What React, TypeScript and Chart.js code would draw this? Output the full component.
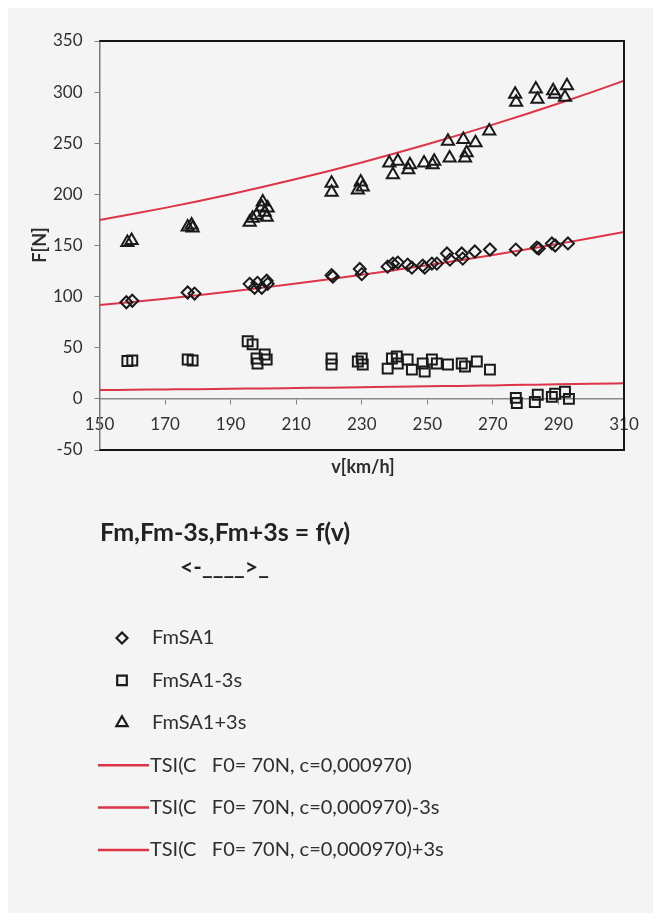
import React, { useEffect, useRef } from 'react';
import { Chart, registerables } from 'chart.js';

Chart.register(...registerables);

// ---- data ----
const fmSA1V = [158.2, 160, 176.9, 179, 195.8, 197.3, 198.2, 199.5, 201, 201.3, 220.8, 221.2, 229.4, 230, 237.9, 239.5, 241, 244, 245.3, 248.6, 249.2, 251.4, 252.9, 256, 256.9, 260.5, 260.8, 264.5, 269.1, 277, 283.4, 284, 288, 289, 292.9];
const fmSA1F = [94.5, 96, 104, 103, 112.5, 108.6, 113.5, 108.6, 115.5, 112.5, 121, 119.5, 127, 122, 129.3, 132.3, 133.3, 131.3, 128.3, 130.3, 128.3, 132.3, 132.3, 142.2, 136.2, 142.2, 137.2, 144.1, 146.1, 146, 148, 147, 152, 150, 152];

const fmSA1MinusV = [158.5, 160, 176.9, 178.4, 195.2, 196.7, 197.9, 198.2, 200.4, 201, 220.8, 220.8, 228.8, 230, 230.3, 237.9, 239.2, 240.7, 241, 244, 245.3, 248.6, 249.2, 251.4, 252.9, 256.3, 260.5, 261.5, 265.1, 269.1, 277, 277.3, 282.8, 283.7, 288, 289, 292, 293.2];
const fmSA1MinusF = [37, 37.5, 38.5, 37.5, 56.3, 53.3, 39.5, 34.6, 43.4, 38.5, 39.5, 33.6, 36.5, 39.5, 33.6, 29.6, 39.5, 41.5, 34.6, 38.5, 28.6, 34.6, 26.7, 38.5, 34.6, 33.6, 34.6, 31.6, 36.5, 28.6, 1, -4, -3, 4, 2, 5, 7, 0];

const fmSA1PlusV = [158.5, 159.8, 176.9, 178.1, 178.4, 195.8, 196.7, 197.9, 199.5, 199.8, 200.4, 201, 201.3, 220.8, 220.8, 228.8, 229.7, 230.3, 238.4, 239.5, 241, 244.2, 244.7, 249, 251.6, 252.1, 256.3, 256.8, 261, 261.5, 262, 264.7, 268.9, 276.8, 277.1, 283.1, 283.6, 288.4, 288.9, 292.6, 292];
const fmSA1PlusF = [153, 155, 168, 170, 167, 172.7, 176.7, 179.7, 187.6, 192.5, 182.6, 177.7, 186.6, 211, 202, 204.3, 212.2, 207.3, 230.7, 219.2, 232.3, 224, 229, 230.7, 229, 232.3, 252, 235.6, 253.7, 235.6, 240.6, 250.4, 261.9, 298, 290, 303, 293, 301.4, 298, 306.3, 294.9];

const tsiV = [150, 160, 170, 180, 190, 200, 210, 220, 230, 240, 250, 260, 270, 280, 290, 300, 310];
const tsiF = [91.8, 94.8, 98.0, 101.4, 105.0, 108.8, 112.8, 117.0, 121.3, 125.9, 130.6, 135.6, 140.7, 146.0, 151.6, 157.3, 163.2];
const tsiMinusF = [8.6, 8.9, 9.2, 9.5, 9.9, 10.2, 10.6, 11.0, 11.4, 11.8, 12.3, 12.7, 13.2, 13.7, 14.2, 14.8, 15.3];
const tsiPlusF = [175.0, 180.7, 186.8, 193.3, 200.2, 207.4, 215.0, 222.9, 231.2, 239.9, 249.0, 258.4, 268.2, 278.4, 288.9, 299.8, 311.1];

const seriesLabels = [
  'FmSA1',
  'FmSA1-3s',
  'FmSA1+3s',
  'TSI(C   F0= 70N, c=0,000970)',
  'TSI(C   F0= 70N, c=0,000970)-3s',
  'TSI(C   F0= 70N, c=0,000970)+3s',
];
const chartTitle = 'Fm,Fm-3s,Fm+3s = f(v)';
const chartSubtitle = '<-____>_';
const xTitle = 'v[km/h]';
const yTitle = 'F[N]';

const pts = (xs: number[], ys: number[]) => xs.map((x, i) => ({ x, y: ys[i] }));

const RED = 'rgb(221,52,72)';
const MARK = '#1a1a1a';

function drawMarker(ctx: CanvasRenderingContext2D, kind: string, x: number, y: number) {
  ctx.save();
  ctx.strokeStyle = MARK;
  ctx.lineWidth = 2.2;
  ctx.beginPath();
  if (kind === 'rectRot') {
    const r = 5.5;
    ctx.moveTo(x - r, y); ctx.lineTo(x, y - r); ctx.lineTo(x + r, y); ctx.lineTo(x, y + r); ctx.closePath();
  } else if (kind === 'rect') {
    const s = 4.8;
    ctx.rect(x - s, y - s, 2 * s, 2 * s);
  } else {
    const r = 6.5;
    ctx.moveTo(x, y - r);
    ctx.lineTo(x + r * 0.866, y + r * 0.5);
    ctx.lineTo(x - r * 0.866, y + r * 0.5);
    ctx.closePath();
  }
  ctx.stroke();
  ctx.restore();
}

const decorPlugin = {
  id: 'decor',
  beforeDraw(chart: any) {
    const ctx = chart.ctx;
    ctx.save();
    ctx.fillStyle = '#f4f4f4';
    ctx.fillRect(0, 0, chart.width, chart.height);
    ctx.restore();
  },
  afterDraw(chart: any) {
    const { ctx, chartArea: a } = chart;
    ctx.save();
    // plot frame (top, right, bottom)
    ctx.strokeStyle = '#151515';
    ctx.lineWidth = 2;
    ctx.beginPath();
    ctx.moveTo(a.left, a.top);
    ctx.lineTo(a.right, a.top);
    ctx.lineTo(a.right, a.bottom);
    ctx.lineTo(a.left, a.bottom);
    ctx.stroke();

    // axis titles
    ctx.fillStyle = '#2c2c2c';
    ctx.font = 'bold 18px Lato';
    ctx.textAlign = 'center';
    ctx.textBaseline = 'middle';
    ctx.fillText(xTitle, 355, 459);
    ctx.save();
    ctx.translate(32, 237);
    ctx.rotate(-Math.PI / 2);
    ctx.fillText(yTitle, 0, 0);
    ctx.restore();

    // chart title
    ctx.textAlign = 'left';
    ctx.fillStyle = '#222';
    ctx.font = 'bold 25px Lato';
    ctx.fillText(chartTitle, 92, 525);
    ctx.font = 'bold 23px Lato';
    ctx.fillText(chartSubtitle, 172, 560);

    // legend
    const kinds = ['rectRot', 'rect', 'triangle'];
    ctx.font = '20px Lato';
    chart.data.datasets.forEach((ds: any, i: number) => {
      const y = 630 + i * 42.4;
      if (i < 3) {
        drawMarker(ctx, kinds[i], 114, y);
        ctx.fillStyle = '#2e2e2e';
        ctx.fillText(ds.label, 144, y);
      } else {
        ctx.strokeStyle = RED;
        ctx.lineWidth = 2.5;
        ctx.beginPath();
        ctx.moveTo(90, y);
        ctx.lineTo(141, y);
        ctx.stroke();
        ctx.fillStyle = '#2e2e2e';
        ctx.fillText(ds.label, 142, y);
      }
    });
    ctx.restore();
  },
};

export default function App() {
  const ref = useRef<HTMLCanvasElement | null>(null);

  useEffect(() => {
    if (!ref.current) return;
    const markerBase = {
      type: 'scatter' as const,
      borderColor: MARK,
      backgroundColor: 'rgba(0,0,0,0)',
      borderWidth: 2,
      showLine: false,
    };
    const lineBase = {
      type: 'scatter' as const,
      borderColor: RED,
      backgroundColor: RED,
      borderWidth: 2,
      pointRadius: 0,
      showLine: true,
      cubicInterpolationMode: 'monotone' as const,
    };
    const chart = new Chart(ref.current, {
      type: 'scatter',
      data: {
        datasets: [
          { ...markerBase, label: seriesLabels[0], data: pts(fmSA1V, fmSA1F), pointStyle: 'rectRot', pointRadius: 6 },
          { ...markerBase, label: seriesLabels[1], data: pts(fmSA1MinusV, fmSA1MinusF), pointStyle: 'rect', pointRadius: 7 },
          { ...markerBase, label: seriesLabels[2], data: pts(fmSA1PlusV, fmSA1PlusF), pointStyle: 'triangle', pointRadius: 7 },
          { ...lineBase, label: seriesLabels[3], data: pts(tsiV, tsiF) },
          { ...lineBase, label: seriesLabels[4], data: pts(tsiV, tsiMinusF) },
          { ...lineBase, label: seriesLabels[5], data: pts(tsiV, tsiPlusF) },
        ] as any,
      },
      options: {
        responsive: false,
        animation: false,
        devicePixelRatio: 1,
        layout: { padding: { left: 0, top: 33, right: 29, bottom: 463 } },
        plugins: {
          legend: { display: false },
          tooltip: { enabled: false },
          title: { display: false },
        },
        scales: {
          x: {
            type: 'linear',
            min: 150,
            max: 310,
            position: { y: 0 } as any,
            grid: { drawOnChartArea: false, drawTicks: true, tickLength: 5, color: '#808080' },
            border: { display: true, color: '#8a8a8a', width: 1.5 },
            ticks: { stepSize: 20, padding: 10, color: '#303030', font: { family: 'Lato', size: 17 }, maxRotation: 0 },
          },
          y: {
            type: 'linear',
            min: -50,
            max: 350,
            position: 'left',
            afterFit: (s: any) => { s.width = 91.5; },
            grid: { drawOnChartArea: false, drawTicks: true, tickLength: 5, color: '#808080' },
            border: { display: true, color: '#7a7a7a', width: 1.5 },
            ticks: { stepSize: 50, padding: 12, color: '#303030', font: { family: 'Lato', size: 17 } },
          },
        },
      },
      plugins: [decorPlugin],
    });
    return () => chart.destroy();
  }, []);

  return (
    <div style={{ width: 645, height: 905 }}>
      <canvas ref={ref} width={645} height={905} style={{ display: 'block' }} />
    </div>
  );
}
